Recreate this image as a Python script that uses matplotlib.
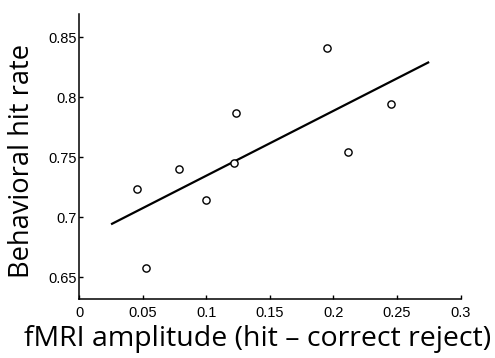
import matplotlib
matplotlib.use("Agg")
import matplotlib.pyplot as plt
import numpy as np

# data
amp = [0.0454, 0.0524, 0.0784, 0.1001, 0.1219, 0.1234, 0.1950, 0.2115, 0.2450]
hit = [0.7240, 0.6575, 0.7400, 0.7144, 0.7453, 0.7872, 0.8408, 0.7544, 0.7942]
fit_x = [0.0252, 0.2752]
fit_y = [0.6942, 0.8294]
xticks = [0, 0.05, 0.1, 0.15, 0.2, 0.25, 0.3]
xticklabels = ["0", "0.05", "0.1", "0.15", "0.2", "0.25", "0.3"]
yticks = [0.65, 0.7, 0.75, 0.8, 0.85]
yticklabels = ["0.65", "0.7", "0.75", "0.8", "0.85"]

W, H = 495, 358
fig = plt.figure(figsize=(W/100, H/100), dpi=100)
ax = fig.add_axes([79/W, 1-299.3/H, (460.7-79)/W, (299.3-14)/H])

ax.plot(fit_x, fit_y, color="black", lw=1.6, solid_capstyle="butt")
ax.plot(amp, hit, linestyle="none", marker="o", markersize=5.2,
        markerfacecolor="white", markeredgecolor="black", markeredgewidth=1.0)

ax.set_xlim(0, 0.3)
ax.set_ylim(0.6317, 0.8694)
ax.set_xticks(xticks)
ax.set_xticklabels(xticklabels)
ax.set_yticks(yticks)
ax.set_yticklabels(yticklabels)
for lab in ax.get_xticklabels() + ax.get_yticklabels():
    lab.set_fontfamily("Liberation Sans")
    lab.set_fontsize(10.5)
ax.tick_params(direction="in", length=3, width=1.0)
ax.tick_params(axis="x", pad=5)
ax.tick_params(axis="y", pad=1.5)
ax.spines["top"].set_visible(False)
ax.spines["right"].set_visible(False)
for s in ("left", "bottom"):
    ax.spines[s].set_linewidth(1.1)

fig.text(258/W, 1-339/H, "fMRI amplitude (hit \u2013 correct reject)",
         fontfamily="Open Sans", fontsize=20.5, ha="center", va="center")
fig.text(22.5/W, 1-161/H, "Behavioral hit rate", rotation=90,
         fontfamily="Open Sans", fontsize=19.6, ha="center", va="center")

fig.savefig("out.png", dpi=100)
